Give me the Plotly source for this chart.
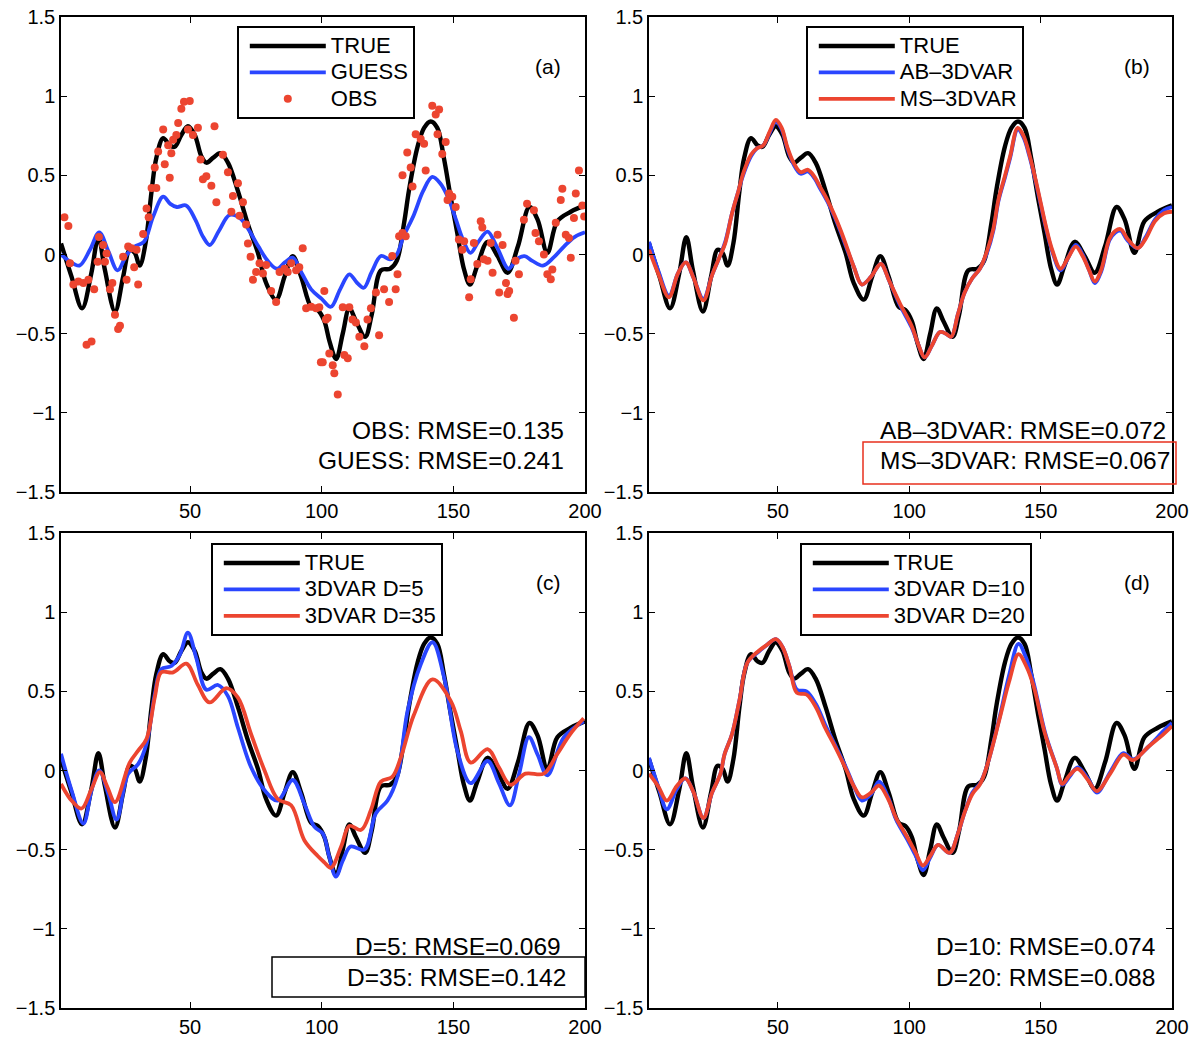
import plotly.graph_objects as go

# ---------------- data ----------------
true_x = [1, 5, 9, 12.5, 15.2, 17.7, 21.5, 24.6, 27.1, 29, 30.9, 33.1, 35.4, 37.2, 39.8, 42.3, 44.2,
          46.7, 49.2, 51.8, 54.3, 56.2, 58.7, 61.5, 64.4, 68.2, 72, 75.8, 78.9, 82.7, 85.9, 89, 92.2,
          96, 98.5, 101, 103, 105.5, 108, 110.5, 113, 116.5, 119, 122.5, 126, 128.5, 131.3, 133.2,
          136.4, 138.9, 141.4, 143.9, 146.4, 149, 151.5, 154, 156.3, 159.1, 163, 166.8, 170.6, 174.5,
          178.9, 182, 185.7, 189.5, 194.6, 200]
true_y = [0.07, -0.14, -0.34, -0.12, 0.11, -0.10, -0.36, -0.14, 0.03, 0.01, -0.07, 0.07, 0.40, 0.61,
          0.735, 0.69, 0.68, 0.755, 0.81, 0.755, 0.62, 0.58, 0.61, 0.64, 0.58, 0.40, 0.19, 0.01, -0.18,
          -0.285, -0.14, -0.01, -0.14, -0.33, -0.35, -0.42, -0.55, -0.66, -0.50, -0.34, -0.42, -0.52,
          -0.38, -0.10, -0.09, -0.04, 0.20, 0.41, 0.68, 0.80, 0.84, 0.80, 0.61, 0.36, 0.135, -0.09,
          -0.19, -0.07, 0.08, -0.01, -0.115, 0.05, 0.30, 0.22, 0.01, 0.21, 0.27, 0.31]

guess_x = [1, 4, 8, 12, 15.5, 19, 22.5, 26, 29, 32.5, 36, 39.8, 42.5, 45, 48.5, 52, 55, 57.5, 61, 65,
           69, 72.5, 76, 79.5, 83, 86, 89, 92.5, 96, 100, 103.5, 107, 110.5, 113.5, 116, 119, 122.5,
           126, 128.5, 131, 135, 138.5, 142, 145, 148, 151, 153.5, 156.5, 159.5, 163, 166.5, 171, 174,
           177, 180, 184, 188, 192, 196, 200]
guess_y = [0.0, -0.04, -0.07, 0.03, 0.14, 0.02, -0.10, 0.0, 0.05, 0.08, 0.24, 0.365, 0.32, 0.30, 0.31,
           0.22, 0.11, 0.06, 0.15, 0.25, 0.23, 0.15, 0.05, -0.04, -0.09, -0.05, -0.02, -0.12, -0.22,
           -0.28, -0.33, -0.22, -0.125, -0.18, -0.21, -0.11, -0.01, -0.03, 0.0, 0.11, 0.25, 0.40, 0.49,
           0.45, 0.36, 0.22, 0.10, 0.01, 0.08, 0.145, 0.05, -0.09, -0.03, -0.01, -0.04, -0.07, -0.02,
           0.05, 0.11, 0.14]

obs_x = [2.3, 3.8, 4.4, 5.7, 7.6, 9.5, 10.7, 11.4, 12.6, 13.6, 14.9, 15.4, 17, 17.7, 18.3, 19.6, 20.5,
         21.5, 22.7, 23.4, 24.6, 25.9, 26.5, 27.8, 28.8, 29.7, 30.3, 32.2, 33.5, 34.3, 35.4, 36.6, 37.2,
         37.9, 39.8, 40.4, 41.7, 42.3, 42.9, 43.6, 44.8, 45.5, 46.7, 47.7, 49.2, 49.9, 51.1, 53, 54,
         54.9, 56.2, 58.1, 59.3, 60, 62.5, 64.4, 65.7, 66.3, 68.2, 68.8, 70.1, 71.3, 72, 73, 73.9, 75.1,
         76.4, 77.7, 78.9, 80.8, 82.7, 84, 85.9, 87.1, 88.4, 90.3, 91.5, 92.8, 94.1, 96, 97.9, 99.1,
         99.7, 100.4, 101, 101.6, 102.3, 102.9, 104.2, 104.8, 106.1, 108, 108.6, 109.9, 110.5, 111.7,
         113, 114.3, 116.2, 117.4, 118.7, 120.6, 121.8, 123.7, 125.6, 126.8, 128.1, 128.8, 129.4, 130.7,
         130.7, 131.9, 132.5, 133.8, 134.5, 135.7, 137.6, 138.9, 139.5, 142, 143.3, 144, 144.6, 145.8,
         147.1, 147.8, 148.4, 149.6, 150.9, 152.1, 153.4, 154.1, 156, 156.6, 157.8, 159.1, 160.4, 161,
         161.6, 163, 164.2, 164.9, 166.8, 167.4, 168.7, 170, 170.6, 171.2, 173, 173.6, 174.9, 176.8,
         178, 180.6, 181.2, 182.5, 184.4, 185.7, 187, 187.6, 188.9, 190.8, 191.4, 192.7, 193.9, 194.6,
         195.8, 196.5, 197.7, 199, 199.7]
obs_y = [0.235, 0.18, -0.056, -0.19, -0.17, -0.18, -0.57, -0.16, -0.55, -0.22, -0.046, 0.11, 0.06,
         -0.046, 0.006, -0.22, -0.18, -0.38, -0.47, -0.45, -0.015, -0.16, 0.05, 0.04, -0.08, 0.03, -0.19,
         0.13, 0.29, 0.235, 0.42, 0.55, 0.42, 0.65, 0.79, 0.57, 0.69, 0.485, 0.64, 0.725, 0.755, 0.83,
         0.92, 0.965, 0.79, 0.97, 0.755, 0.80, 0.60, 0.475, 0.495, 0.435, 0.81, 0.33, 0.63, 0.52, 0.27,
         0.37, 0.45, 0.245, 0.33, 0.19, 0.07, -0.015, -0.16, -0.11, -0.056, -0.12, -0.067, -0.23, -0.30,
         -0.11, -0.09, -0.11, -0.056, -0.10, -0.08, 0.04, -0.34, -0.33, -0.34, -0.333, -0.68, -0.68,
         -0.23, -0.41, -0.40, -0.625, -0.70, -0.75, -0.885, -0.333, -0.635, -0.656, -0.333, -0.41, -0.43,
         -0.52, -0.58, -0.41, -0.34, -0.24, -0.51, -0.22, -0.30, -0.01, -0.22, -0.125, 0.115, 0.135,
         0.50, 0.115, 0.645, 0.55, 0.43, 0.76, 0.73, 0.70, 0.53, 0.94, 0.885, 0.76, 0.915, 0.635, 0.71,
         0.345, 0.385, 0.365, 0.30, 0.094, 0.03, 0.083, -0.27, -0.156, 0.073, -0.06, 0.21, 0.17, -0.03,
         -0.04, 0.073, -0.115, 0.125, -0.24, 0.06, -0.18, -0.25, -0.23, -0.40, -0.04, -0.125, 0.22, 0.32,
         0.28, 0.135, 0.083, 0.0, -0.125, -0.156, -0.094, 0.20, 0.345, 0.415, 0.125, 0.104, -0.02, 0.23,
         0.385, 0.53, 0.31, 0.24]

ab_x = [1, 4.5, 8.6, 12, 15, 18, 21.7, 25, 28, 30, 32.6, 35, 37, 39.8, 42, 44.5, 47, 49.3, 51.5, 53.6,
        56, 58.7, 61.5, 64, 66, 69, 71.8, 74, 76.2, 79, 82, 85.5, 89.2, 92.5, 96.5, 100.9, 103.5, 105.9,
        108.5, 111.7, 114, 116, 118.5, 121.1, 124, 126.9, 129.8, 132, 134, 136.5, 138.4, 141.3, 143.5,
        145.6, 148, 150, 152, 154.4, 157.6, 160.5, 163.4, 166, 168.5, 170.6, 173, 176.2, 178.5, 180.5,
        183, 187, 190, 193.5, 197, 200]
ab_y = [0.08, -0.10, -0.26, -0.12, -0.05, -0.15, -0.28, -0.13, -0.01, 0.08, 0.26, 0.40, 0.51, 0.62,
        0.67, 0.69, 0.77, 0.84, 0.79, 0.67, 0.57, 0.51, 0.525, 0.48, 0.42, 0.33, 0.23, 0.14, 0.04, -0.08,
        -0.19, -0.14, -0.06, -0.17, -0.32, -0.46, -0.57, -0.65, -0.58, -0.49, -0.50, -0.52, -0.38, -0.24,
        -0.15, -0.09, 0.02, 0.15, 0.34, 0.49, 0.61, 0.79, 0.74, 0.63, 0.47, 0.32, 0.17, 0.02, -0.10,
        -0.02, 0.06, 0.0, -0.10, -0.18, -0.11, 0.09, 0.14, 0.15, 0.09, 0.04, 0.11, 0.22, 0.28, 0.30]

ms_x = [1, 4.5, 8.6, 12, 15, 18, 21.7, 25, 28, 30, 32.6, 35, 37, 39.8, 42, 44.5, 47, 49.3, 51.5, 53.6,
        56, 58.7, 61.5, 64, 66, 69, 71.8, 74, 76.2, 79, 82, 85.5, 89.2, 92.5, 96.5, 100.9, 103.5, 105.9,
        108.5, 111.7, 114, 116, 118.5, 121.1, 124, 126.9, 129.8, 132, 134, 136.5, 138.4, 141.3, 143.5,
        145.6, 148, 150, 152, 154.4, 157.6, 160.5, 163.4, 166, 168.5, 170.6, 173, 176.2, 178.5, 180.5,
        183, 187, 190, 193.5, 197, 200]
ms_y = [0.03, -0.12, -0.27, -0.12, -0.05, -0.15, -0.29, -0.13, -0.01, 0.07, 0.26, 0.40, 0.52, 0.63,
        0.67, 0.69, 0.78, 0.85, 0.80, 0.68, 0.58, 0.52, 0.535, 0.49, 0.43, 0.34, 0.24, 0.15, 0.05, -0.08,
        -0.19, -0.14, -0.06, -0.17, -0.31, -0.45, -0.57, -0.65, -0.58, -0.49, -0.50, -0.52, -0.38, -0.24,
        -0.15, -0.09, 0.03, 0.16, 0.35, 0.50, 0.62, 0.80, 0.75, 0.64, 0.48, 0.33, 0.18, 0.03, -0.09,
        -0.02, 0.05, -0.01, -0.10, -0.17, -0.10, 0.10, 0.15, 0.16, 0.10, 0.04, 0.10, 0.21, 0.26, 0.27]

d5_x = [1, 5, 9.5, 12.6, 15.5, 19, 22.1, 26.5, 30.3, 33.5, 36.6, 39.1, 42.9, 46.1, 49.2, 52.4, 56.2,
        60.6, 64.4, 68.2, 73.2, 78.3, 83.3, 89, 93.4, 97.2, 100.5, 102.8, 105.4, 108, 111, 116.2, 120.6,
        125, 128.8, 132.6, 137.6, 142.1, 146.6, 151.5, 156.6, 163, 167.3, 171.5, 175, 178.7, 182,
        185.7, 192, 199.5]
d5_y = [0.105, -0.125, -0.335, -0.125, 0.0, -0.15, -0.31, -0.02, 0.04, 0.17, 0.48, 0.64, 0.66, 0.73,
        0.87, 0.71, 0.51, 0.54, 0.47, 0.27, 0.02, -0.125, -0.19, -0.06, -0.21, -0.355, -0.40, -0.54,
        -0.67, -0.57, -0.48, -0.50, -0.27, -0.19, -0.04, 0.375, 0.67, 0.81, 0.58, 0.125, -0.08, 0.06,
        -0.08, -0.22, -0.02, 0.21, 0.10, -0.03, 0.21, 0.31]

d35_x = [1, 5, 8.8, 12.5, 15.8, 18.5, 21.5, 27.1, 30.3, 33.5, 36.6, 39.1, 43.6, 48.6, 53, 57.4, 63.8,
         68.2, 73.2, 78.3, 83.3, 88.4, 93.4, 98.5, 101, 103.5, 107.4, 110.5, 115, 118.7, 122.5, 126.8,
         130, 135, 142.1, 149, 152.8, 156.6, 163, 167.3, 171.7, 177.4, 184.3, 189.3, 194.4, 199.5]
d35_y = [-0.085, -0.19, -0.24, -0.12, -0.01, -0.10, -0.20, 0.05, 0.125, 0.20, 0.46, 0.62, 0.62, 0.675,
         0.54, 0.43, 0.52, 0.46, 0.23, 0.0, -0.18, -0.22, -0.44, -0.54, -0.58, -0.615, -0.48, -0.35,
         -0.375, -0.25, -0.07, -0.04, 0.08, 0.35, 0.575, 0.44, 0.25, 0.05, 0.135, 0.02, -0.09, -0.02,
         -0.02, 0.10, 0.23, 0.33]

d10_x = [1, 4.5, 7.8, 11.5, 14.8, 18, 21.7, 25, 28.2, 29.7, 32.6, 35.5, 38.4, 42.7, 45.6, 49.3, 51.8,
         54.4, 57.3, 60.9, 64.5, 68, 71.8, 76.2, 79, 82, 85.5, 88.5, 92, 95, 99.4, 102.5, 105.2, 108,
         111, 115.4, 118.5, 121.2, 124, 127, 129.8, 134.3, 138, 141.6, 144.5, 147.4, 151.7, 156.1,
         158.3, 161, 164.1, 168, 171.4, 176.5, 181.5, 185.2, 191, 196.8, 200]
d10_y = [0.08, -0.10, -0.245, -0.12, -0.05, -0.14, -0.30, -0.14, -0.02, 0.10, 0.23, 0.45, 0.68, 0.75,
         0.79, 0.83, 0.78, 0.66, 0.51, 0.50, 0.42, 0.29, 0.16, 0.01, -0.10, -0.19, -0.15, -0.07, -0.17,
         -0.31, -0.44, -0.54, -0.63, -0.55, -0.47, -0.52, -0.40, -0.26, -0.14, -0.08, 0.04, 0.33, 0.60,
         0.80, 0.71, 0.55, 0.24, 0.02, -0.09, -0.04, 0.02, -0.05, -0.14, -0.01, 0.11, 0.07, 0.15, 0.25,
         0.30]

d20_x = [1, 4.5, 7.8, 11.5, 14.8, 18, 21.7, 25, 28.2, 29.7, 32.6, 35.5, 38.4, 42.7, 45.6, 49.3, 51.8,
         54.4, 57.3, 60.9, 64.5, 68, 71.8, 76.2, 79, 82, 85.5, 88.5, 92, 95, 99.4, 102.5, 105.2, 108,
         111, 115.4, 118.5, 121.2, 124, 127, 129.8, 134.3, 138, 141.6, 144.5, 147.4, 151.7, 156.1,
         158.3, 161, 164.1, 168, 171.4, 176.5, 181.5, 185.2, 191, 196.8, 200]
d20_y = [-0.02, -0.10, -0.19, -0.10, -0.05, -0.14, -0.30, -0.14, -0.02, 0.10, 0.23, 0.45, 0.68, 0.755,
         0.79, 0.83, 0.78, 0.66, 0.49, 0.48, 0.40, 0.27, 0.15, 0.0, -0.10, -0.17, -0.14, -0.095, -0.18,
         -0.30, -0.425, -0.52, -0.60, -0.54, -0.47, -0.52, -0.40, -0.26, -0.15, -0.085, 0.04, 0.32,
         0.56, 0.735, 0.66, 0.53, 0.23, 0.02, -0.085, -0.03, 0.01, -0.06, -0.13, -0.02, 0.10, 0.065,
         0.15, 0.23, 0.28]

x_ticks = [50, 100, 150, 200]
y_ticks = [-1.5, -1, -0.5, 0, 0.5, 1, 1.5]
y_ticktext = ['\u22121.5', '\u22121', '\u22120.5', '0', '0.5', '1', '1.5']

# ---------------- styling ----------------
W, H = 1194, 1038
BLACK = '#000000'
BLUE = '#2a46ff'
RED = '#ec4530'
FONT = 'Liberation Sans, Arial, Helvetica, sans-serif'


def px(x):
    return x / W


def py(y):
    return 1 - y / H


def leg_name(t):
    return '<span style="font-size:22px">' + t + '</span>'


fig = go.Figure()

panels = [
    dict(ax='', lg='legend', xd=(61, 585), yd=(17, 492)),
    dict(ax='2', lg='legend2', xd=(649, 1172), yd=(17, 492)),
    dict(ax='3', lg='legend3', xd=(61, 585), yd=(533, 1008)),
    dict(ax='4', lg='legend4', xd=(649, 1172), yd=(533, 1008)),
]

series = [
    # panel a
    [dict(x=true_x, y=true_y, name='TRUE', color=BLACK, w=4.4),
     dict(x=guess_x, y=guess_y, name='GUESS', color=BLUE, w=3.8),
     dict(x=obs_x, y=obs_y, name='OBS', color=RED, w=0, marker=True)],
    # panel b
    [dict(x=true_x, y=true_y, name='TRUE', color=BLACK, w=4.4),
     dict(x=ab_x, y=ab_y, name='AB\u20133DVAR', color=BLUE, w=3.8),
     dict(x=ms_x, y=ms_y, name='MS\u20133DVAR', color=RED, w=3.8)],
    # panel c
    [dict(x=true_x, y=true_y, name='TRUE', color=BLACK, w=4.4),
     dict(x=d5_x, y=d5_y, name='3DVAR D=5', color=BLUE, w=3.8),
     dict(x=d35_x, y=d35_y, name='3DVAR D=35', color=RED, w=3.8)],
    # panel d
    [dict(x=true_x, y=true_y, name='TRUE', color=BLACK, w=4.4),
     dict(x=d10_x, y=d10_y, name='3DVAR D=10', color=BLUE, w=3.8),
     dict(x=d20_x, y=d20_y, name='3DVAR D=20', color=RED, w=3.8)],
]

for p, ss in zip(panels, series):
    for s in ss:
        if s.get('marker'):
            fig.add_trace(go.Scatter(x=s['x'], y=s['y'], mode='markers', name=leg_name(s['name']),
                                     marker=dict(color=s['color'], size=8),
                                     xaxis='x' + p['ax'], yaxis='y' + p['ax'], legend=p['lg']))
        else:
            fig.add_trace(go.Scatter(x=s['x'], y=s['y'], mode='lines', name=leg_name(s['name']),
                                     line=dict(color=s['color'], width=s['w'], shape='spline',
                                               smoothing=1.0),
                                     xaxis='x' + p['ax'], yaxis='y' + p['ax'], legend=p['lg']))

axis_common = dict(showline=True, linecolor='black', linewidth=1.5, mirror='ticks', ticks='inside',
                   ticklen=6, tickwidth=1.3, tickcolor='black', showgrid=False, zeroline=False,
                   automargin=False, tickfont=dict(family=FONT, size=20, color='black'))

layout = dict(width=W, height=H, margin=dict(l=0, r=0, t=0, b=0, autoexpand=False),
              paper_bgcolor='white', plot_bgcolor='white', showlegend=True)

legend_pos = [(237, 26), (806, 26), (211, 543), (800, 543)]
for p, (lx, ly) in zip(panels, legend_pos):
    a = p['ax']
    layout['xaxis' + a] = dict(axis_common, domain=[px(p['xd'][0]), px(p['xd'][1])], range=[1, 200],
                               tickvals=x_ticks, anchor='y' + a)
    layout['yaxis' + a] = dict(axis_common, domain=[py(p['yd'][1]), py(p['yd'][0])],
                               range=[-1.5, 1.5], tickvals=y_ticks, ticktext=y_ticktext,
                               anchor='x' + a)
    layout[p['lg']] = dict(x=px(lx), y=py(ly), xanchor='left', yanchor='top', bgcolor='white',
                           bordercolor='black', borderwidth=1.8, itemwidth=76, indentation=6,
                           tracegroupgap=0, font=dict(family=FONT, size=18, color='black'))

fig.update_layout(**layout)

# panel labels
for lab, (x, y) in zip(['(a)', '(b)', '(c)', '(d)'], [(548, 66), (1137, 66), (548, 582), (1137, 582)]):
    fig.add_annotation(x=px(x), y=py(y), xref='paper', yref='paper', text=lab, showarrow=False,
                       xanchor='center', yanchor='middle', font=dict(family=FONT, size=21, color='black'))

rmse = [
    ('OBS: RMSE=0.135', 566, 430), ('GUESS: RMSE=0.241', 566, 461),
    ('AB\u20133DVAR: RMSE=0.072', 1168, 430), ('MS\u20133DVAR: RMSE=0.067', 1172, 461),
    ('D=5: RMSE=0.069', 563, 946), ('D=35: RMSE=0.142', 568, 977),
    ('D=10: RMSE=0.074', 1157, 946), ('D=20: RMSE=0.088', 1157, 977),
]
for t, x, y in rmse:
    fig.add_annotation(x=px(x), y=py(y), xref='paper', yref='paper', text=t, showarrow=False,
                       xanchor='right', yanchor='middle',
                       font=dict(family=FONT, size=24.5, color='black'))

# highlight boxes
fig.add_shape(type='rect', xref='paper', yref='paper', x0=px(863), x1=px(1176), y0=py(484), y1=py(442),
              line=dict(color='#e8301e', width=1.5))
fig.add_shape(type='rect', xref='paper', yref='paper', x0=px(272), x1=px(585), y0=py(997), y1=py(957),
              line=dict(color='black', width=1.5))

fig.write_html('out.html')
